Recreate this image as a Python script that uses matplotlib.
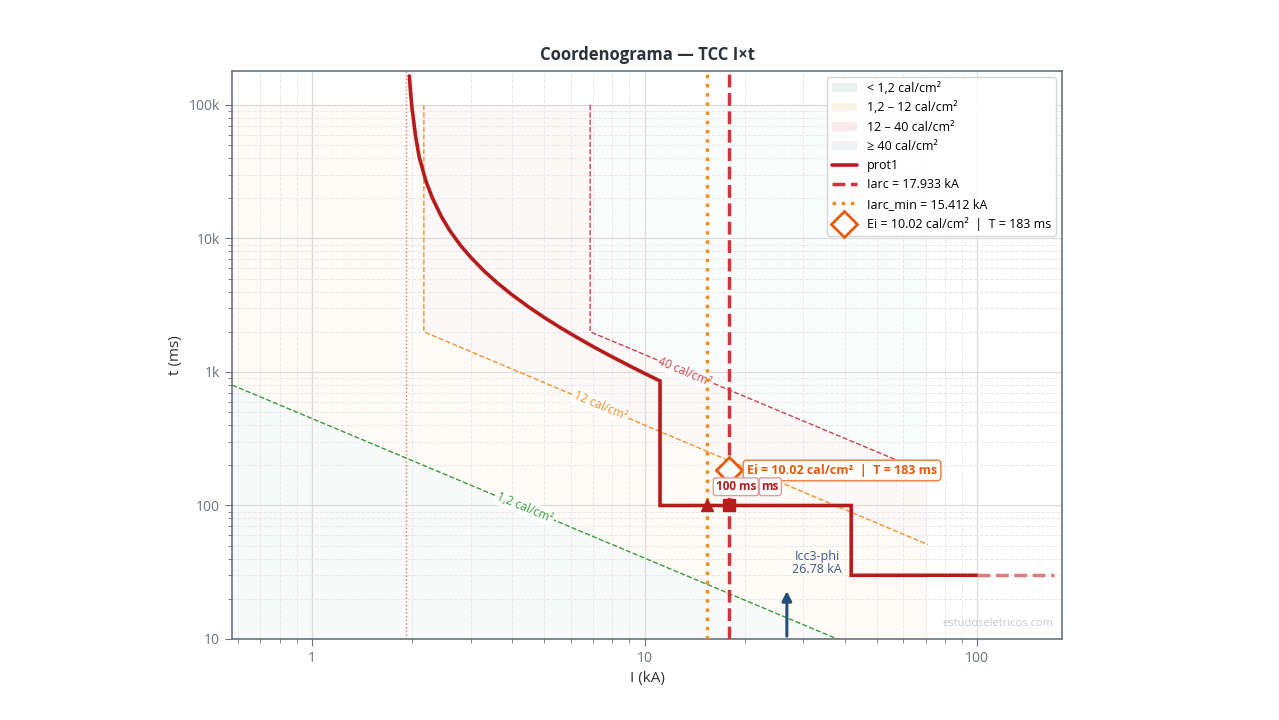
import math
import matplotlib
matplotlib.use("Agg")
import matplotlib.pyplot as plt
from matplotlib.patches import Polygon, Patch
from matplotlib.ticker import FuncFormatter, LogLocator, NullFormatter

plt.rcParams['font.family'] = ['Open Sans', 'DejaVu Sans']

prot_I = [1.962, 1.98, 2.0, 2.05, 2.1, 2.2, 2.3, 2.45, 2.6, 2.8, 3.0, 3.3, 3.6, 4.0,
          4.5, 5.0, 5.6, 6.3, 7.0, 8.0, 9.0, 10.0, 11.13,
          11.13, 41.8, 41.8, 100]
prot_t = [165000, 122000, 94000, 58000, 41000, 27000, 20200, 14600, 11400, 8850, 7240,
          5680, 4670, 3780, 3050, 2555, 2140, 1800, 1550, 1297, 1114, 976, 857,
          100, 100, 30, 30]
prot_ext_I = [100, 170]
prot_ext_t = [30, 30]
pickup_I = 1.917

I_arc = 17.933
I_arc_min = 15.412
Icc3 = 26.78
Ei = 10.02
T_arc = 183
t_inst = 100

# curvas de isoenergia
iso1_I = [0.5, 71]
iso1_t = [925, 5.2]
iso12_I = [2.17, 2.17, 71]
iso12_t = [100000, 2000, 51]
iso40_I = [6.86, 6.86, 71]
iso40_t = [100000, 2000, 175]

# posição dos rótulos das curvas
lbl_text = ["40 cal/cm²", "12 cal/cm²", "1,2 cal/cm²"]
lbl_pos = [(13.2, 1000), (7.35, 560), (4.37, 96)]

zone_labels = ["< 1,2 cal/cm²", "1,2 – 12 cal/cm²", "12 – 40 cal/cm²", "≥ 40 cal/cm²"]
zone_colors = ["#5f9e7a", "#f2b632", "#e57373", "#8fa3b3"]

# 2. Figura
fig = plt.figure(figsize=(12.79, 7.2), dpi=100)
ax = fig.add_axes([0.1814, 0.1125, 0.649, 0.789])
ax.set_xscale("log")
ax.set_yscale("log")
ax.set_xlim(0.575, 180)
ax.set_ylim(10, 180000)

# zonas de energia
t_top = 100000
t_bot = 1
iso1 = list(zip(iso1_I, iso1_t))
iso12 = list(zip(iso12_I, iso12_t))
iso40 = list(zip(iso40_I, iso40_t))
zones = [
    iso1 + [(iso1_I[-1], t_bot), (iso1_I[0], t_bot)],
    [(iso1_I[0], t_top)] + iso1 + iso12[::-1],
    iso12 + iso40[::-1],
    iso40 + [(iso40_I[-1], t_top)],
]
zone_handles = []
for pts, c, lab in zip(zones, zone_colors, zone_labels):
    ax.add_patch(Polygon(pts, closed=True, facecolor=c, edgecolor="none", alpha=0.045, zorder=0))
    zone_handles.append(Patch(facecolor=c, edgecolor="none", alpha=0.13, label=lab))

ax.plot(iso1_I, iso1_t, "--", color="#3a9d3a", lw=1.0, zorder=2)
ax.plot(iso12_I, iso12_t, "--", color="#f5922f", lw=1.0, zorder=2)
ax.plot(iso40_I, iso40_t, "--", color="#c9444c", lw=1.0, zorder=2)

# grade
ax.grid(True, which="major", color="#dcdcdc", lw=0.9, zorder=1)
ax.grid(True, which="minor", color="#e9e9e9", lw=0.7, ls="--", zorder=1)
ax.set_axisbelow(True)

# pickup
ax.axvline(pickup_I, color="#e57373", lw=1.0, ls=":", zorder=2)

# proteção
l_prot, = ax.plot(prot_I, prot_t, color="#b71c1c", lw=2.6, solid_capstyle="round",
                  solid_joinstyle="miter", zorder=5, label="prot1")
ax.plot(prot_ext_I, prot_ext_t, "--", color="#e07b7b", lw=2.5, zorder=5)

# arco
l_iarc = ax.axvline(I_arc, color="#d0353f", lw=2.5, ls="--", zorder=4,
                    label=f"Iarc = {I_arc:.3f} kA")
l_imin = ax.axvline(I_arc_min, color="#f28e1c", lw=2.5, ls=":", zorder=4,
                    label=f"Iarc_min = {I_arc_min:.3f} kA")
ax.plot([I_arc_min], [t_inst], marker="^", color="#b71c1c", ms=8, zorder=6, ls="none")
ax.plot([I_arc], [t_inst], marker="s", color="#b71c1c", ms=8, zorder=6, ls="none")

ei_label = f"Ei = {Ei:.2f} cal/cm²  |  T = {T_arc} ms"
l_ei, = ax.plot([I_arc], [T_arc], marker="D", ms=13, mfc="white", mec="#e8590c", mew=2,
                ls="none", zorder=7, label=ei_label)
ax.annotate(ei_label, (I_arc, T_arc), xytext=(13, 0), textcoords="offset points",
            ha="left", va="center", fontsize=9, fontweight="bold", color="#e8590c",
            bbox=dict(boxstyle="round,pad=0.3", fc="white", ec="#f0894a", lw=1.2), zorder=8)

box_t = dict(boxstyle="round,pad=0.2", fc="white", ec="#e29a9a", lw=1.0)
ax.annotate(f"{t_inst} ms", (I_arc, t_inst), xytext=(5, 13.5), textcoords="offset points",
            ha="center", va="center", fontsize=8.5, fontweight="bold", color="#b71c1c",
            bbox=box_t, zorder=8)
ax.annotate("ms", (I_arc, t_inst), xytext=(23.5, 13.5), textcoords="offset points",
            ha="left", va="center", fontsize=8.5, fontweight="bold", color="#b71c1c",
            bbox=box_t, zorder=8)

# Icc
ax.annotate("", xy=(Icc3, 24), xytext=(Icc3, 10),
            arrowprops=dict(arrowstyle="-|>", color="#234f7d", lw=2.2, mutation_scale=14),
            zorder=6)
ax.text(33, 29.5, f"Icc3-phi\n{Icc3:.2f} kA", ha="center", va="bottom", fontsize=9,
        color="#3b5b85", linespacing=1.0, zorder=6)

# rótulos das curvas de energia
lbl_colors = ["#c9444c", "#f5922f", "#3a9d3a"]
p1 = ax.transData.transform((iso12_I[1], iso12_t[1]))
p2 = ax.transData.transform((iso12_I[2], iso12_t[2]))
ang = math.degrees(math.atan2(p2[1] - p1[1], p2[0] - p1[0]))
for txt, (xi, yi), c in zip(lbl_text, lbl_pos, lbl_colors):
    ax.text(xi, yi, txt, rotation=ang, rotation_mode="anchor", ha="center", va="center",
            fontsize=8.5, color=c, zorder=3,
            bbox=dict(boxstyle="square,pad=0.15", fc="white", ec="none", alpha=0.85))

ax.text(0.99, 0.018, "estudoseletricos.com", transform=ax.transAxes, ha="right",
        va="bottom", fontsize=8, color="#c5cad1", zorder=3)

# eixos
ax.yaxis.set_major_formatter(FuncFormatter(lambda v, p: f"{v / 1000:g}k" if v >= 1000 else f"{v:g}"))
ax.xaxis.set_major_formatter(FuncFormatter(lambda v, p: f"{v:g}"))
ax.xaxis.set_minor_formatter(NullFormatter())
ax.yaxis.set_minor_locator(LogLocator(base=10, subs=range(2, 10)))
ax.tick_params(which="major", length=5, color="#6b7280", labelcolor="#6b7280", labelsize=10)
ax.tick_params(which="minor", length=3, color="#6b7280")
for s in ax.spines.values():
    s.set_color("#6b7280")
    s.set_linewidth(1.2)

ax.set_xlabel("I (kA)", fontsize=11, color="#333333")
ax.set_ylabel("t (ms)", fontsize=11, color="#333333")
ax.set_title("Coordenograma — TCC I×t", fontsize=12, fontweight="bold", color="#2d333a", pad=8)

ax.legend(handles=zone_handles + [l_prot, l_iarc, l_imin, l_ei], loc="upper right",
          fontsize=9, framealpha=0.92, edgecolor="#cfd4da", borderaxespad=0.5,
          handlelength=2.0, labelspacing=0.5)

fig.savefig("out.png", dpi=100)
